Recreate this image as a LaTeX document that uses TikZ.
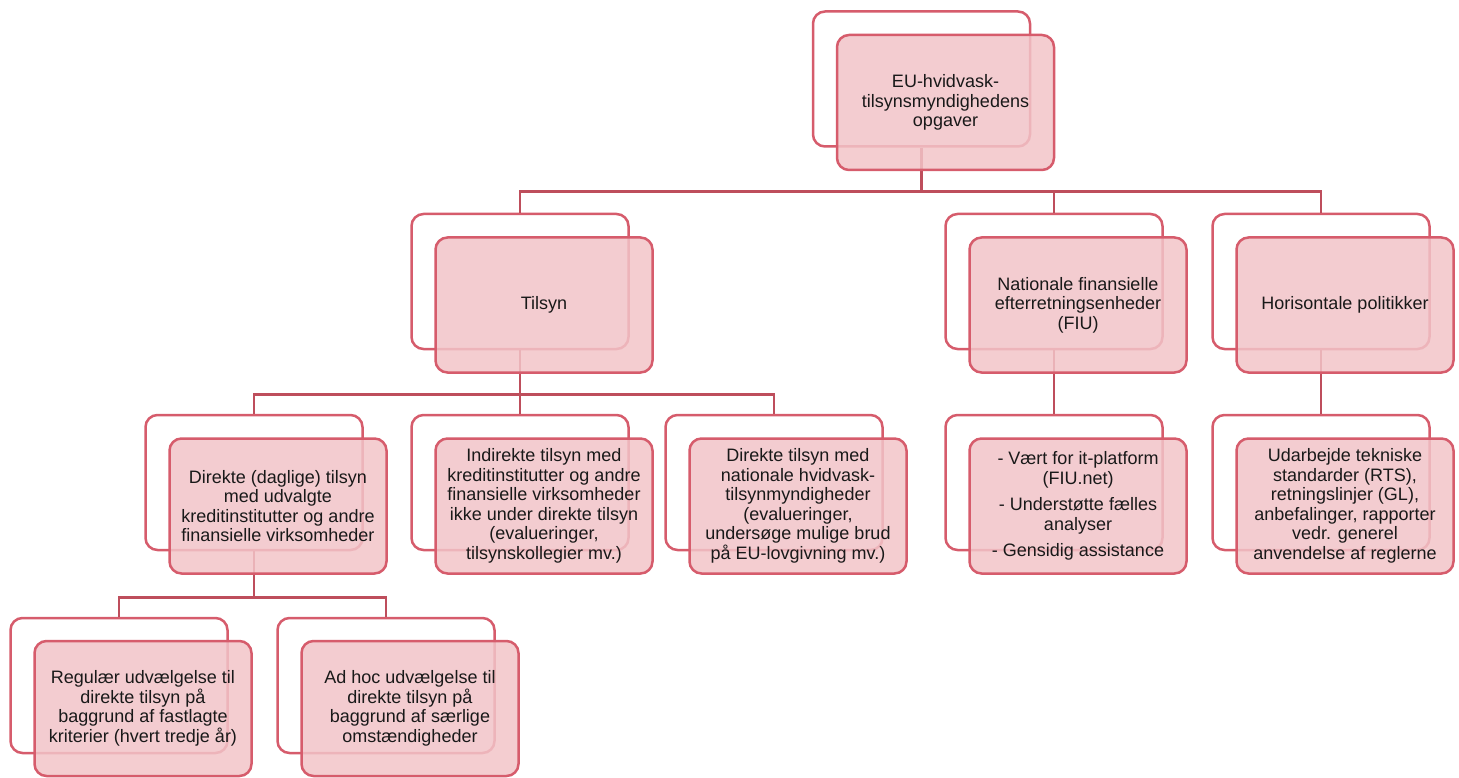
\documentclass[tikz,border=0pt]{standalone}
\usepackage{fontspec}
\setmainfont{Liberation Sans}
\usepackage{tikz}
\definecolor{boxred}{RGB}{214,92,108}
\definecolor{linkred}{RGB}{190,78,92}
\definecolor{boxpink}{RGB}{242,196,200}
\definecolor{boxtext}{RGB}{25,25,25}
\tikzstyle{box}=[draw=boxred, line width=2.5pt, rounded corners=12pt, minimum width=217pt, minimum height=135pt, inner sep=0pt]
\tikzstyle{backbox}=[box, fill=white]
\tikzstyle{frontbox}=[box, fill=boxpink, fill opacity=0.85, text opacity=1, text=boxtext, align=center, font=\fontsize{18}{19.5}\selectfont]
\tikzstyle{link}=[draw=linkred, line width=2.5pt]

\begin{document}
\begin{tikzpicture}[x=1pt, y=-1pt]
    \useasboundingbox (0,0) rectangle (1459,778);
    \node[backbox] (topB) at (921.5,79) {};
    \node[backbox] (tilsynB) at (520,281.5) {};
    \node[backbox] (fiuB) at (1054,281.5) {};
    \node[backbox] (horB) at (1321,281.5) {};
    \node[backbox] (daglB) at (254,482.5) {};
    \node[backbox] (indirB) at (520,482.5) {};
    \node[backbox] (natB) at (774,482.5) {};
    \node[backbox] (fiuCB) at (1054,482.5) {};
    \node[backbox] (horCB) at (1321,482.5) {};
    \node[backbox] (regB) at (119,685.5) {};
    \node[backbox] (adhocB) at (386,685.5) {};

    \draw[link] (topB.south) -- ++(0,44) coordinate (bar1);
    \draw[link] (tilsynB.north) |- (bar1) -| (horB.north);
    \draw[link] (fiuB.north) -- (fiuB.north |- bar1);
    \draw[link] (tilsynB.south) -- ++(0,44) coordinate (bar2);
    \draw[link] (daglB.north) |- (bar2) -| (natB.north);
    \draw[link] (indirB.north) -- (bar2);
    \draw[link] (fiuB.south) -- (fiuCB.north);
    \draw[link] (horB.south) -- (horCB.north);
    \draw[link] (daglB.south) -- ++(0,46) coordinate (bar3);
    \draw[link] (regB.north) |- (bar3) -| (adhocB.north);

    \node[frontbox] (top) at (945.5,102.5) {EU-hvidvask-\\tilsynsmyndighedens\\opgaver};
    \node[frontbox] (tilsyn) at (544,305) {Tilsyn};
    \node[frontbox] (fiu) at (1078,305) {Nationale finansielle\\efterretningsenheder\\(FIU)};
    \node[frontbox] (hor) at (1345,305) {Horisontale politikker};
    \node[frontbox] (dagl) at (278,506) {Direkte (daglige) tilsyn\\med udvalgte\\kreditinstitutter og andre\\finansielle virksomheder};
    \node[frontbox] (indir) at (544,506) {Indirekte tilsyn med\\kreditinstitutter og andre\\finansielle virksomheder\\ikke under direkte tilsyn\\(evalueringer,\\tilsynskollegier mv.)};
    \node[frontbox] (nat) at (798,506) {Direkte tilsyn med\\nationale hvidvask-\\tilsynmyndigheder\\(evalueringer,\\undersøge mulige brud\\på EU-lovgivning mv.)};
    \node[frontbox] (fiuC) at (1078,506) {- Vært for it-platform\\(FIU.net)\\[7pt]- Understøtte fælles\\analyser\\[7pt]- Gensidig assistance};
    \node[frontbox] (horC) at (1345,506) {Udarbejde tekniske\\standarder (RTS),\\retningslinjer (GL),\\anbefalinger, rapporter\\vedr. generel\\anvendelse af reglerne};
    \node[frontbox] (reg) at (143,708.5) {Regulær udvælgelse til\\direkte tilsyn på\\baggrund af fastlagte\\kriterier (hvert tredje år)};
    \node[frontbox] (adhoc) at (410,708.5) {Ad hoc udvælgelse til\\direkte tilsyn på\\baggrund af særlige\\omstændigheder};
\end{tikzpicture}
\end{document}
